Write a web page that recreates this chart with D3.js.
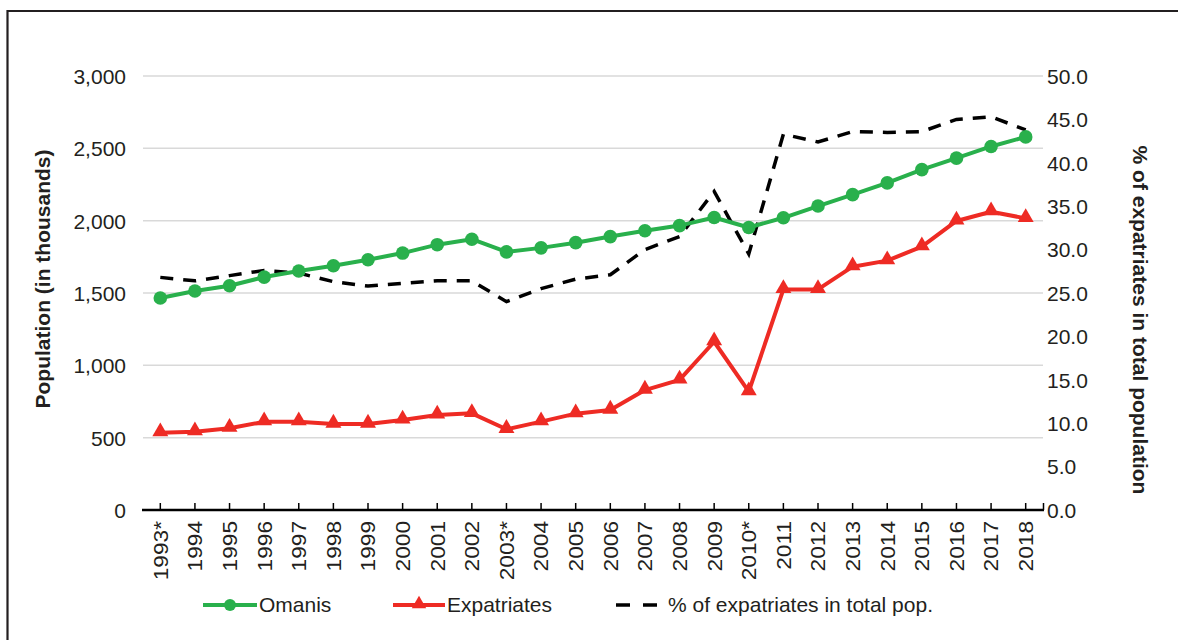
<!DOCTYPE html>
<html><head><meta charset="utf-8">
<script src="https://cdn.jsdelivr.net/npm/d3@7"></script>
<style>body{margin:0;background:#fff;}svg{display:block;font-family:"Liberation Sans",Arial,sans-serif;}</style>
</head><body>
<svg id="c" width="1178" height="640"></svg>
<script>
const years = ["1993*","1994","1995","1996","1997","1998","1999","2000","2001","2002","2003*","2004","2005","2006","2007","2008","2009","2010*","2011","2012","2013","2014","2015","2016","2017","2018"];
const omanis = [1465,1514,1550,1610,1652,1688,1730,1776,1834,1872,1784,1812,1848,1890,1930,1966,2022,1953,2020,2101,2180,2261,2353,2432,2513,2579];
const expatriates = [534,541,565,610,610,594,594,622,657,668,558,611,666,691,829,899,1163,818,1525,1525,1682,1724,1820,1998,2062,2016];
const pctExpat = [26.8,26.4,27.0,27.6,27.3,26.3,25.8,26.1,26.4,26.4,24.0,25.5,26.6,27.1,30.0,31.5,36.7,29.5,43.3,42.4,43.6,43.5,43.6,45.0,45.3,43.8];
const leftTicks = [0,500,1000,1500,2000,2500,3000];
const rightTicks = [0,5,10,15,20,25,30,35,40,45,50];
const seriesNames = ["Omanis","Expatriates","% of expatriates in total pop."];

const GREEN="#29b04c", RED="#ee2b24", INK="#231f20";
const FS = 21;
const svg = d3.select("#c");

// frame
svg.append("path").attr("d","M7.5,640 L7.5,11 L1178,11").attr("fill","none").attr("stroke",INK).attr("stroke-width",2.2);

const x = d3.scaleBand().domain(years).range([143,1043]).paddingInner(0).paddingOuter(0);
const cx = d => x(d)+x.bandwidth()/2;
const yL = d3.scaleLinear().domain([0,3000]).range([510,76]);
const yR = d3.scaleLinear().domain([0,50]).range([510,76]);

// gridlines
svg.append("g").selectAll("line").data(leftTicks.slice(1)).join("line")
  .attr("x1",143).attr("x2",1043).attr("y1",d=>yL(d)).attr("y2",d=>yL(d))
  .attr("stroke","#d9d9d9").attr("stroke-width",1.5);

// left axis
const gl = svg.append("g").attr("transform","translate(131,0)")
  .call(d3.axisLeft(yL).tickValues(leftTicks).tickFormat(d3.format(",")).tickSize(0).tickPadding(0));
gl.select(".domain").remove();
gl.selectAll("text").attr("font-size",FS).attr("fill",INK).attr("font-family","Liberation Sans, Arial, sans-serif").attr("dy","0.35em").attr("x",-5);

// right axis
const gr = svg.append("g").attr("transform","translate(1047,0)")
  .call(d3.axisRight(yR).tickValues(rightTicks).tickFormat(d3.format(".1f")).tickSize(0).tickPadding(0));
gr.select(".domain").remove();
gr.selectAll("text").attr("font-size",FS).attr("fill",INK).attr("font-family","Liberation Sans, Arial, sans-serif").attr("dy","0.35em");

// x axis
const gx = svg.append("g");
gx.append("line").attr("x1",142).attr("x2",1044).attr("y1",510).attr("y2",510).attr("stroke","#000").attr("stroke-width",2.5);
gx.selectAll("line.tk").data(years).join("line").attr("class","tk")
  .attr("x1",d=>cx(d)).attr("x2",d=>cx(d)).attr("y1",503).attr("y2",510).attr("stroke","#000").attr("stroke-width",1.5);
gx.append("line").attr("x1",1043.5).attr("x2",1043.5).attr("y1",503).attr("y2",510).attr("stroke","#000").attr("stroke-width",1.5);
gx.selectAll("text").data(years).join("text")
  .attr("transform",d=>`translate(${cx(d)},521) rotate(-90) scale(1.08,1)`)
  .attr("text-anchor","end").attr("dy","0.35em").attr("font-size",FS).attr("fill",INK)
  .text(d=>d);

// axis titles
svg.append("text").attr("transform","translate(43,279) rotate(-90)").attr("text-anchor","middle").attr("dy","0.35em")
  .attr("font-size",21).attr("font-weight","bold").attr("fill",INK).text("Population (in thousands)");
svg.append("text").attr("transform","translate(1140,320) rotate(90)").attr("text-anchor","middle").attr("dy","0.35em")
  .attr("font-size",21).attr("font-weight","bold").attr("fill",INK).text("% of expatriates in total population");

// lines
const lineL = d3.line().x((d,i)=>cx(years[i])).y(d=>yL(d));
const lineR = d3.line().x((d,i)=>cx(years[i])).y(d=>yR(d));
svg.append("path").datum(pctExpat).attr("d",lineR).attr("fill","none").attr("stroke","#000").attr("stroke-width",3.5).attr("stroke-dasharray","13,10");
svg.append("path").datum(expatriates).attr("d",lineL).attr("fill","none").attr("stroke",RED).attr("stroke-width",4).attr("stroke-linejoin","round");
svg.append("path").datum(omanis).attr("d",lineL).attr("fill","none").attr("stroke",GREEN).attr("stroke-width",4).attr("stroke-linejoin","round");
const tri = d3.symbol().type(d3.symbolTriangle).size(110);
svg.append("g").selectAll("path").data(expatriates).join("path")
  .attr("transform",(d,i)=>`translate(${cx(years[i])},${yL(d)-1})`).attr("d",tri).attr("fill",RED);
svg.append("g").selectAll("circle").data(omanis).join("circle")
  .attr("cx",(d,i)=>cx(years[i])).attr("cy",d=>yL(d)).attr("r",6.8).attr("fill",GREEN);

// legend
const ly = 605;
const lg = svg.append("g");
lg.append("line").attr("x1",203).attr("x2",257).attr("y1",ly).attr("y2",ly).attr("stroke",GREEN).attr("stroke-width",4);
lg.append("circle").attr("cx",230).attr("cy",ly).attr("r",6).attr("fill",GREEN);
lg.append("text").attr("x",259).attr("y",ly).attr("dy","0.35em").attr("font-size",FS).attr("fill",INK).text(seriesNames[0]);
lg.append("line").attr("x1",393).attr("x2",445).attr("y1",ly).attr("y2",ly).attr("stroke",RED).attr("stroke-width",4);
lg.append("path").attr("transform",`translate(419,${ly-1})`).attr("d",d3.symbol().type(d3.symbolTriangle).size(90)).attr("fill",RED);
lg.append("text").attr("x",447).attr("y",ly).attr("dy","0.35em").attr("font-size",FS).attr("fill",INK).text(seriesNames[1]);
lg.append("line").attr("x1",616).attr("x2",661).attr("y1",ly).attr("y2",ly).attr("stroke","#000").attr("stroke-width",3.5).attr("stroke-dasharray","14,13");
lg.append("text").attr("x",668).attr("y",ly).attr("dy","0.35em").attr("font-size",FS).attr("fill",INK).text(seriesNames[2]);
</script>
</body></html>
